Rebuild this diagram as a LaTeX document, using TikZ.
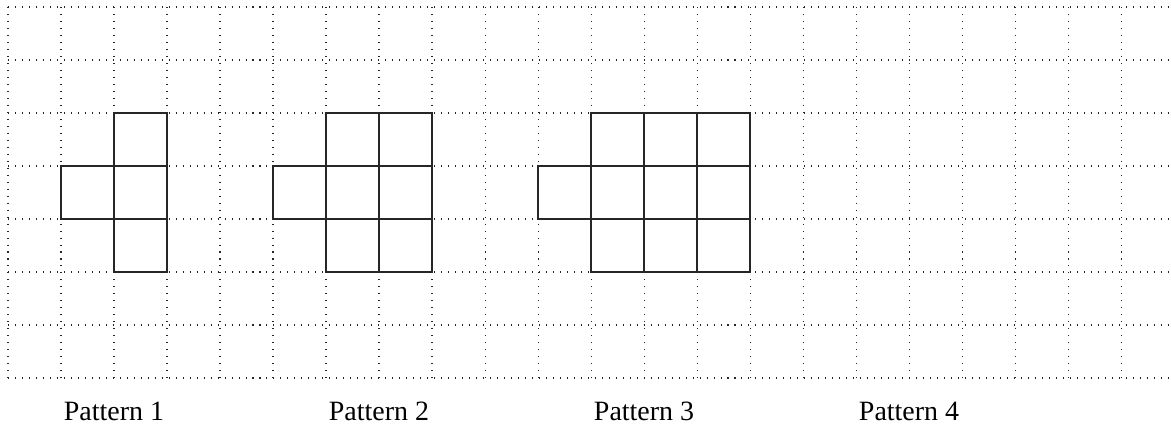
\documentclass[tikz,border=0pt]{standalone}
\usepackage{fontspec}
\setmainfont{Liberation Serif}
\begin{document}
\begin{tikzpicture}[
  gridline/.style={line width=0.55pt, black!85, dash pattern=on 0.55pt off 3.2pt},
  cell/.style={line width=1.5pt, black!85},
  patlabel/.style={anchor=base, inner sep=0pt, font=\fontsize{15}{18}\selectfont}
]
  \useasboundingbox (-0.151,0.132) rectangle (21.943,-7.943);
  % --- grille pointill\'ee ---
  \foreach \x in {0,...,21}{
    \draw[gridline] (\x,0) -- (\x,-7);
  }
  \foreach \y in {0,...,7}{
    \draw[gridline] (0,-\y) -- (21.943,-\y);
  }
  % --- Pattern 1 ---
  \begin{scope}[xshift=0cm]
    \foreach \c/\r in {1/3, 2/2, 2/3, 2/4}{
      \draw[cell] (\c,-\r) rectangle ++(1,-1);
    }
  \end{scope}
  % --- Pattern 2 ---
  \begin{scope}[xshift=4cm]
    \foreach \c/\r in {1/3, 2/2, 2/3, 2/4, 3/2, 3/3, 3/4}{
      \draw[cell] (\c,-\r) rectangle ++(1,-1);
    }
  \end{scope}
  % --- Pattern 3 ---
  \begin{scope}[xshift=9cm]
    \foreach \c/\r in {1/3, 2/2, 2/3, 2/4, 3/2, 3/3, 3/4, 4/2, 4/3, 4/4}{
      \draw[cell] (\c,-\r) rectangle ++(1,-1);
    }
  \end{scope}
  % --- etiquettes ---
  \node[patlabel] (pat1) at (2,-7.81) {Pattern 1};
  \node[patlabel] (pat2) at (7,-7.81) {Pattern 2};
  \node[patlabel] (pat3) at (12,-7.81) {Pattern 3};
  \node[patlabel] (pat4) at (17,-7.81) {Pattern 4};
\end{tikzpicture}
\end{document}
